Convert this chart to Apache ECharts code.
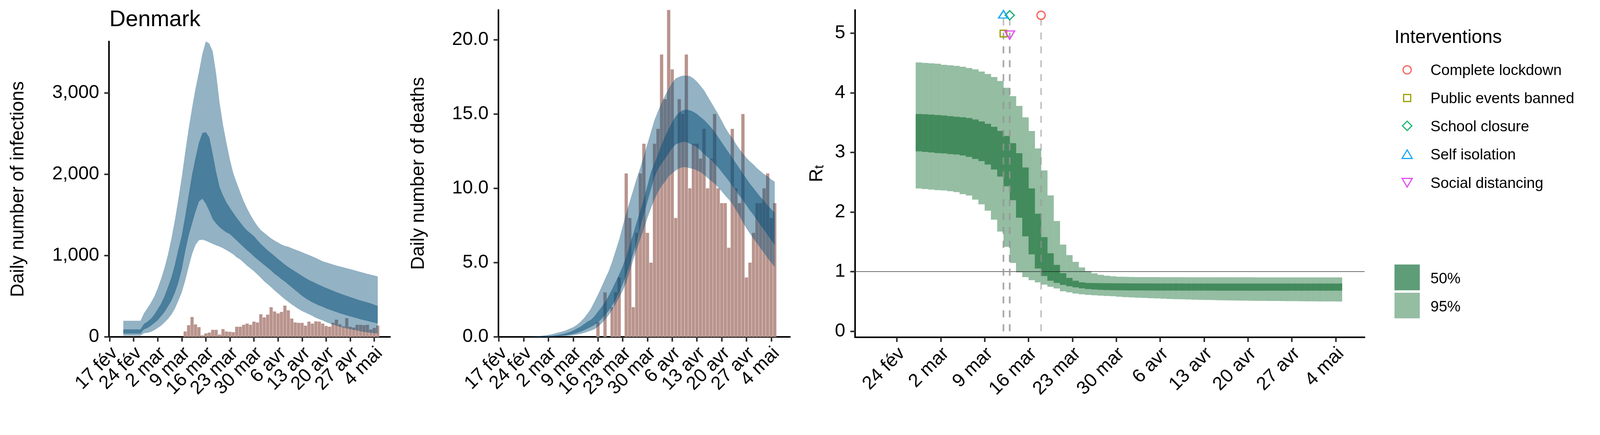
<!DOCTYPE html>
<html><head><meta charset="utf-8">
<style>html,body{margin:0;padding:0;background:#fff;overflow:hidden}#c{width:100vw;height:1113px}</style>
<script src="https://cdn.jsdelivr.net/npm/echarts@6/dist/echarts.min.js"></script>
</head><body><div id="c"></div>
<script>
// Day index: 0 = 17 fév
const tickDays=[0,7,14,21,28,35,42,49,56,63,70,77];
const tickLabels=['17 fév','24 fév','2 mar','9 mar','16 mar','23 mar','30 mar','6 avr','13 avr','20 avr','27 avr','4 mai'];
const bandStartDay=4;
const infHi95=[198,198,198,198,198,198,290,352,420,495,597,717,853,1014,1212,1434,1690,1963,2270,2560,2817,3055,3260,3482,3636,3612,3516,3243,2885,2612,2390,2185,2014,1895,1782,1673,1581,1502,1430,1366,1314,1280,1246,1212,1185,1161,1137,1120,1110,1092,1075,1059,1043,1025,1007,989,971,951,931,917,904,891,878,867,856,845,835,823,811,799,787,776,766,755,744];
const infHi50=[92,92,92,92,92,92,160,188,222,273,341,410,502,615,734,888,1075,1246,1485,1741,1997,2202,2390,2509,2520,2458,2253,2031,1844,1741,1656,1588,1526,1465,1410,1355,1310,1275,1240,1190,1145,1105,1065,1030,995,960,925,890,860,832,805,778,750,725,700,680,660,640,620,602,585,568,551,535,520,505,490,476,462,449,436,424,412,396,381];
const infLo50=[41,41,41,41,41,41,92,108,137,170,205,255,307,375,445,545,665,830,1050,1246,1395,1540,1665,1700,1640,1550,1450,1395,1350,1315,1285,1265,1225,1185,1145,1105,1065,1030,990,955,920,885,850,815,775,745,710,680,645,610,575,540,505,475,450,425,405,385,370,350,335,320,305,290,278,265,252,240,228,217,207,196,185,175,165];
const infLo95=[16,16,16,16,16,16,45,50,61,82,109,138,178,221,274,346,442,547,691,859,1019,1132,1189,1196,1183,1164,1145,1127,1111,1092,1068,1043,1015,979,952,915,875,843,808,768,728,683,648,611,571,535,499,463,430,399,370,343,317,298,279,258,234,218,202,181,165,151,138,125,114,103,95,85,79,69,61,56,50,45,42];
const infBarStart=22;
const infBars=[67,144,245,154,120,19,43,53,87,87,29,96,67,63,58,125,125,149,164,149,188,178,279,240,274,365,313,289,308,385,327,226,178,173,173,139,188,164,192,188,164,135,125,173,212,154,130,231,125,115,149,149,144,149,91,111,139];
const deathBarStart=28;
const deathBars=[1,0,3,0,2,3,4,0,11,8,2,7,11,13,7,5,13,14,19,16,22,18,8,16,15,19,10,13,13,12,14,10,12,15,10,9,9,6,14,10,9,15,4,5,7,9,9,10,11,8,9];
const deathHi95=[0,0,0,0,0,0.01,0.02,0.04,0.07,0.1,0.14,0.18,0.24,0.31,0.37,0.45,0.55,0.65,0.8,1,1.25,1.55,1.9,2.37,2.85,3.35,3.9,4.4,5.05,5.8,6.55,7.45,8.33,9.12,9.9,10.7,11.4,12.2,13,13.8,14.6,15.2,15.75,16.25,16.7,17.1,17.4,17.5,17.58,17.58,17.55,17.4,17.18,16.9,16.6,16.2,15.8,15.4,15,14.55,14.1,13.7,13.4,13,12.65,12.35,12.05,11.8,11.6,11.35,11.15,10.95,10.8,10.6,10.45];
const deathHi50=[0,0,0,0,0,0,0.01,0.01,0.02,0.03,0.05,0.07,0.1,0.14,0.19,0.25,0.33,0.42,0.55,0.68,0.85,1.02,1.15,1.38,1.7,2,2.35,2.75,3.2,3.7,4.2,4.75,5.4,6.2,6.95,7.75,8.5,9.3,10.2,11.1,11.7,12.3,12.95,13.5,14,14.45,14.85,15.1,15.25,15.3,15.25,15.15,15,14.8,14.6,14.35,14.1,13.8,13.45,13.1,12.75,12.4,12.05,11.7,11.35,11,10.65,10.3,10,9.7,9.4,9.15,8.85,8.6,8.35,8.1].slice(0,75);
const deathLo50=[0,0,0,0,0,0,0,0,0,0.01,0.02,0.03,0.04,0.06,0.08,0.11,0.15,0.2,0.26,0.34,0.44,0.55,0.67,0.8,0.98,1.2,1.45,1.75,2.1,2.5,3,3.55,4.15,4.85,5.6,6.4,7.4,8.25,9.1,9.95,10.75,11.3,11.65,12,12.35,12.7,12.95,13.05,13.12,13.12,13,12.9,12.75,12.55,12.3,12.1,11.9,11.65,11.4,11.1,10.8,10.5,10.15,9.85,9.5,9.2,8.85,8.5,8.2,7.85,7.5,7.2,6.85,6.5,6.18];
const deathLo95=[0,0,0,0,0,0,0,0,0,0,0.01,0.015,0.02,0.03,0.04,0.06,0.08,0.11,0.15,0.2,0.26,0.34,0.42,0.52,0.68,0.9,1.15,1.45,1.8,2.2,2.65,3.1,3.65,4.4,5.2,5.9,6.6,7.25,8,8.65,9.25,9.75,10.15,10.45,10.8,11,11.2,11.35,11.42,11.42,11.35,11.3,11.2,11.1,10.9,10.7,10.5,10.3,10.05,9.8,9.5,9.25,8.95,8.55,8.15,7.7,7.3,6.95,6.6,6.3,5.95,5.65,5.3,5,4.7];
const rtStartDay=10;
const rtHi95=[4.508,4.501,4.494,4.488,4.47,4.462,4.451,4.437,4.416,4.392,4.357,4.315,4.265,4.198,4.084,3.944,3.78,3.587,3.358,3.066,2.698,2.278,1.848,1.453,1.276,1.164,1.07,1.01,0.97,0.945,0.93,0.92,0.915,0.912,0.91,0.908,0.907,0.907,0.907,0.906,0.906,0.906,0.906,0.905,0.905,0.905,0.905,0.905,0.904,0.904,0.904,0.904,0.904,0.904,0.903,0.903,0.903,0.903,0.903,0.903,0.903,0.903,0.902,0.902,0.902,0.902,0.902,0.902];
const rtHi50=[3.644,3.64,3.633,3.627,3.618,3.607,3.598,3.589,3.576,3.552,3.519,3.48,3.428,3.359,3.276,3.155,2.986,2.746,2.396,1.972,1.578,1.308,1.113,0.973,0.894,0.847,0.82,0.81,0.808,0.806,0.805,0.804,0.803,0.803,0.802,0.802,0.802,0.801,0.801,0.801,0.801,0.801,0.8,0.8,0.8,0.8,0.8,0.8,0.8,0.8,0.8,0.8,0.8,0.8,0.8,0.8,0.8,0.8,0.8,0.8,0.8,0.8,0.8,0.8,0.8,0.8,0.8,0.8];
const rtLo50=[3.017,3.008,2.999,2.988,2.982,2.971,2.964,2.949,2.923,2.89,2.853,2.796,2.713,2.595,2.431,2.197,1.904,1.592,1.29,1.052,0.926,0.847,0.81,0.777,0.754,0.736,0.72,0.708,0.7,0.694,0.69,0.688,0.686,0.685,0.684,0.684,0.683,0.683,0.682,0.682,0.682,0.682,0.681,0.681,0.681,0.681,0.681,0.681,0.68,0.68,0.68,0.68,0.68,0.68,0.68,0.68,0.68,0.68,0.68,0.68,0.68,0.68,0.68,0.68,0.68,0.68,0.68,0.68];
const rtLo95=[2.394,2.385,2.376,2.367,2.361,2.348,2.333,2.3,2.276,2.208,2.129,2.022,1.871,1.671,1.415,1.145,0.987,0.908,0.857,0.819,0.782,0.745,0.717,0.67,0.652,0.633,0.619,0.61,0.603,0.597,0.591,0.586,0.578,0.572,0.567,0.562,0.558,0.554,0.55,0.545,0.541,0.538,0.535,0.532,0.529,0.526,0.524,0.522,0.52,0.518,0.516,0.514,0.512,0.511,0.51,0.509,0.508,0.507,0.506,0.505,0.504,0.503,0.502,0.501,0.5,0.5,0.499,0.498];
const interventionNames=['Complete lockdown','Public events banned','School closure','Self isolation','Social distancing'];
const interventionDays=[30,24,25,24,25];
const interventionLevels=[5.3,5.0,5.3,5.3,5.0];
const rtTicks=[0,1,2,3,4,5];
const infTicks=[0,1000,2000,3000];
const deathTicks=[0,5,10,15,20];
const intervalNames=['50%','95%'];

// The browser viewport may be narrower than the 4200px reference; keep proportions across the width.
const SX=window.innerWidth/4200;
const X=v=>v*SX;
const FONT='"Liberation Sans",Helvetica,Arial,sans-serif';
const BASE=48;
const LEG=38.5;
const colors={circle:'#F8635D',square:'#9E9E00',diamond:'#1CB56F',up:'#1AA8F5',down:'#E24DF0'};
const markerKinds=['circle','square','diamond','up','down'];
const symbolOf={circle:'circle',square:'rect',diamond:'diamond',up:'triangle',down:'triangle'};
const sizeOf={circle:21,square:17,diamond:23.4,up:[25,19],down:[25,21]};
const offsetOf={circle:[0,0],square:[0,1],diamond:[0,0],up:[0,-2.5],down:[0,5]};

// Tight rotated labels are thinned by ECharts, so a panel's labels may be split over two axes on the same scale.
function xAxis(idx,min,max,tickSet,labelSet,lined){
  const dayLabel=v=>tickLabels[tickDays.indexOf(v)];
  return {type:'value',gridIndex:idx,position:'bottom',min,max,splitLine:{show:false},
    axisLine:{show:lined,onZero:false,lineStyle:{color:'#000',width:4}},
    axisTick:{show:lined,customValues:tickSet,length:12,lineStyle:{color:'#333',width:4}},
    axisLabel:{customValues:labelSet,rotate:45,align:'right',verticalAlign:'top',margin:14,padding:[0,5,0,0],color:'#000',fontSize:BASE,fontFamily:FONT,
      showMinLabel:true,showMaxLabel:true,hideOverlap:false,
      formatter:dayLabel}};
}
const oddDays=tickDays.filter((d,i)=>i%2===0), evenDays=tickDays.filter((d,i)=>i%2===1);
function yAxis(idx,min,max,ticks,fmt,name,gap,rich){
  return {type:'value',gridIndex:idx,min,max,name,nameLocation:'middle',nameGap:gap,
    nameTextStyle:{color:'#000',fontSize:BASE,fontFamily:FONT,rich},
    splitLine:{show:false},
    axisLine:{onZero:false,lineStyle:{color:'#000',width:4}},
    axisTick:{customValues:ticks,length:12,lineStyle:{color:'#333',width:4}},
    axisLabel:{customValues:ticks,margin:25,color:'#000',fontSize:BASE,fontFamily:FONT,formatter:fmt}};
}
function band(g,lo,hi,fill,z){
  return {type:'custom',xAxisIndex:g,yAxisIndex:g,z,silent:true,clip:false,
    data:lo.map((v,i)=>[bandStartDay+i,v,hi[i]]),encode:{x:0,y:[1,2]},
    renderItem(p,api){
      if(p.dataIndex!==0) return null;
      const pts=[];
      hi.forEach((v,i)=>pts.push(api.coord([bandStartDay+i,v])));
      for(let i=lo.length-1;i>=0;i--) pts.push(api.coord([bandStartDay+i,lo[i]]));
      return {type:'polygon',shape:{points:pts},style:{fill}};
    }};
}
function steps(name,lo,hi,fill,z){
  return {type:'custom',name,xAxisIndex:2,yAxisIndex:2,z,silent:true,clip:false,
    data:lo.map((v,i)=>[rtStartDay+i,v,hi[i]]),encode:{x:0,y:[1,2]},
    renderItem(p,api){
      const a=api.coord([api.value(0),api.value(2)]), b=api.coord([api.value(0)+1,api.value(1)]);
      return {type:'rect',shape:{x:a[0],y:a[1],width:b[0]-a[0]+0.4,height:b[1]-a[1]},style:{fill}};
    }};
}
const series=[
  {type:'bar',xAxisIndex:0,yAxisIndex:0,z:1,barWidth:X(8.4),silent:true,itemStyle:{color:'#B9948D'},data:infBars.map((v,i)=>[infBarStart+i,v])},
  band(0,infLo95,infHi95,'rgba(8,79,120,0.44)',2),
  band(0,infLo50,infHi50,'rgba(8,79,120,0.53)',3),
  {type:'bar',xAxisIndex:1,yAxisIndex:1,z:1,barWidth:X(8.6),silent:true,itemStyle:{color:'#B9948D'},data:deathBars.map((v,i)=>[deathBarStart+i,v])},
  band(1,deathLo95,deathHi95,'rgba(8,79,120,0.44)',2),
  band(1,deathLo50,deathHi50,'rgba(8,79,120,0.53)',3),
  steps('95%',rtLo95,rtHi95,'#94BDA2',1),
  steps('50%',rtLo50,rtHi50,'#438B5C',2),
  {type:'line',xAxisIndex:2,yAxisIndex:2,z:3,silent:true,symbol:'none',lineStyle:{color:'#1a1a1a',width:1.4},data:[[0.32,1],[81.6,1]]},
];
interventionNames.forEach((n,i)=>{
  const k=markerKinds[i];
  series.push({type:'line',xAxisIndex:2,yAxisIndex:2,z:4,silent:true,symbol:'none',
    lineStyle:{color:'rgba(150,150,150,0.55)',width:4.3,type:[17.8,17.75]},
    data:[[interventionDays[i],0],[interventionDays[i],interventionLevels[i]]]});
  series.push({type:'scatter',name:n,xAxisIndex:2,yAxisIndex:2,z:5,silent:true,
    symbol:symbolOf[k],symbolSize:sizeOf[k],symbolRotate:k==='down'?180:0,symbolOffset:offsetOf[k],
    itemStyle:{color:'rgba(0,0,0,0)',borderColor:colors[k],borderWidth:3.2,opacity:1},
    data:[[interventionDays[i],interventionLevels[i]]]});
});

// Legend keys and text
const LX=X(3693.8), TX=X(3755), rowY=[178.8,250.7,322,394.6,467.5], TY=3;
const stroke=k=>({fill:'none',stroke:colors[k],lineWidth:3});
const g=[
  {type:'text',x:X(3660.5),y:97,style:{text:'Interventions',font:`${BASE}px ${FONT}`,fill:'#000',verticalAlign:'middle'}},
  {type:'circle',shape:{cx:LX,cy:rowY[0],r:10.5},style:stroke('circle')},
  {type:'rect',shape:{x:LX-9,y:rowY[1]-9,width:18,height:18},style:stroke('square')},
  {type:'polygon',shape:{points:[[LX,rowY[2]-12],[LX+12,rowY[2]],[LX,rowY[2]+12],[LX-12,rowY[2]]]},style:stroke('diamond')},
  {type:'polygon',shape:{points:[[LX,rowY[3]-11],[LX+13,rowY[3]+11],[LX-13,rowY[3]+11]]},style:stroke('up')},
  {type:'polygon',shape:{points:[[LX,rowY[4]+11],[LX+13,rowY[4]-11],[LX-13,rowY[4]-11]]},style:stroke('down')},
  {type:'rect',shape:{x:X(3660.5),y:676.7,width:X(66.5),height:66},style:{fill:'#5F9C78'}},
  {type:'rect',shape:{x:X(3660.5),y:749,width:X(66.5),height:65.5},style:{fill:'#94BDA2'}},
  {type:'text',x:TX,y:711.4+TY,style:{text:intervalNames[0],font:`${LEG}px ${FONT}`,fill:'#000',verticalAlign:'middle'}},
  {type:'text',x:TX,y:783+TY,style:{text:intervalNames[1],font:`${LEG}px ${FONT}`,fill:'#000',verticalAlign:'middle'}},
];
interventionNames.forEach((n,i)=>g.push({type:'text',x:TX,y:rowY[i]+TY,style:{text:n,font:`${LEG}px ${FONT}`,fill:'#000',verticalAlign:'middle'}}));

const chart=echarts.init(document.getElementById('c'),null,{renderer:'canvas',width:window.innerWidth,height:1113});
chart.setOption({
  animation:false,backgroundColor:'#fff',
  title:{text:'Denmark',left:X(287),top:22,padding:0,textStyle:{color:'#000',fontFamily:FONT,fontSize:57.5,fontWeight:'normal'}},
  grid:[
    {left:X(286),width:X(738),top:106,height:756},
    {left:X(1308),width:X(765.6),top:25.5,height:836.5},
    {left:X(2244.4),width:X(1337.6),top:25.5,height:837.5},
  ],
  xAxis:[
    xAxis(0,-0.17,81.6,tickDays,oddDays,true),
    xAxis(1,-0.18,82.3,tickDays,oddDays,true),
    xAxis(2,0.32,81.6,tickDays.slice(1),tickDays.slice(1),true),
    xAxis(0,-0.17,81.6,evenDays,evenDays,false),
    xAxis(1,-0.18,82.3,evenDays,evenDays,false),
  ],
  yAxis:[
    yAxis(0,0,3636,infTicks,v=>v.toLocaleString('en-US'),'Daily number of infections',X(213)),
    yAxis(1,0,22,deathTicks,v=>v.toFixed(1),'Daily number of deaths',X(184)),
    yAxis(2,-0.102,5.389,rtTicks,v=>String(v),'{a|R}{b|t}',X(75),{a:{fontSize:BASE,fontFamily:FONT,color:'#000'},b:{fontSize:34,fontFamily:FONT,color:'#000',verticalAlign:'bottom',padding:[14,0,0,0]}}),
  ],
  series,graphic:g
});
</script></body></html>
